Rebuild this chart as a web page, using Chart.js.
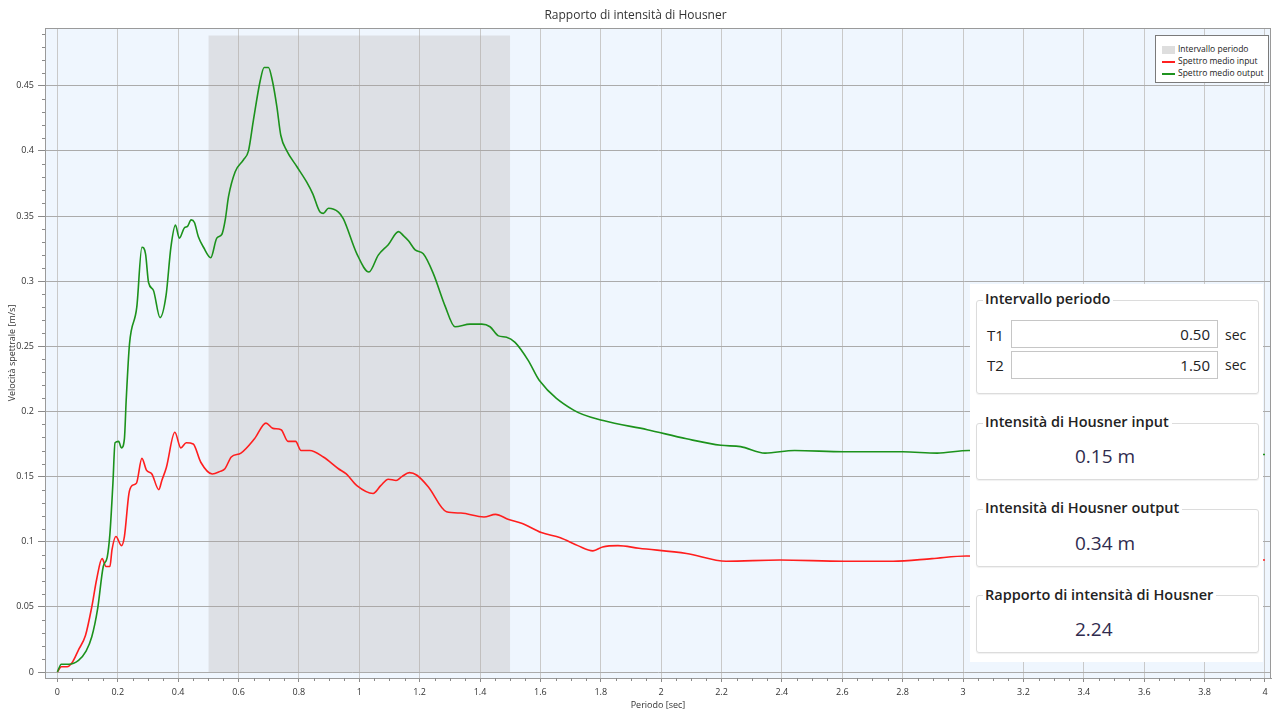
<!DOCTYPE html>
<html>
<head>
<meta charset="utf-8">
<title>Rapporto di intensità di Housner</title>
<script src="https://cdn.jsdelivr.net/npm/chart.js@4"></script>
<style>
    body { margin: 0; background: #fff; font-family: 'Open Sans', sans-serif; }
    #wrap { position: relative; width: 1277px; height: 715px; }
    #chart { position: absolute; left: 0; top: 0; }

    .legend { position: absolute; left: 1155px; top: 35px; width: 112px; height: 46px;
        background: #fff; border: 1px solid #7a7a7a; font-size: 8.5px; color: #222; }
    .legend .row { position: absolute; left: 6px; height: 11px; line-height: 11px; white-space: nowrap; }
    .legend .sw { display: inline-block; width: 13px; vertical-align: middle; margin-right: 3px; }

    .panel { position: absolute; left: 970px; top: 284px; width: 293px; height: 378px; background: #fff; }
    .box { position: absolute; left: 6px; width: 281px; border: 1px solid #dcdcdc; border-radius: 3px;
        box-shadow: 0 1px 1px rgba(0,0,0,0.06); }
    .lbl { position: absolute; left: 13px; font-size: 14.5px; font-weight: 600; color: #222;
        background: #fff; padding: 0 3px 0 2px; line-height: 18px; white-space: nowrap; }
    .val { position: absolute; left: 105px; font-size: 19px; color: #2f2b4e; line-height: 24px; }
    .t { position: absolute; left: 17px; font-size: 15px; color: #222; line-height: 18px; }
    .inp { position: absolute; left: 41px; width: 205px; height: 26px; border: 1px solid #c6c6c6;
        text-align: right; font-size: 15px; line-height: 26px; color: #222; box-sizing: content-box; }
    .inp span { padding-right: 7px; }
    .sec { position: absolute; left: 255px; font-size: 14px; color: #222; line-height: 18px; }
</style>
</head>
<body>
<div id="wrap">
    <canvas id="chart" width="1277" height="715"></canvas>

    <div class="legend">
        <div class="row" style="top:7px"><span class="sw" style="height:8px;background:#dedede"></span>Intervallo periodo</div>
        <div class="row" style="top:19px"><span class="sw" style="height:2px;background:#ff2020"></span>Spettro medio input</div>
        <div class="row" style="top:31px"><span class="sw" style="height:2px;background:#1f931f"></span>Spettro medio output</div>
    </div>

    <div class="panel">
        <div class="box" style="top:16px;height:92px"></div>
        <div class="lbl" style="top:6px">Intervallo periodo</div>
        <div class="t" style="top:42px">T1</div>
        <div class="inp" style="top:36px"><span>0.50</span></div>
        <div class="sec" style="top:42px">sec</div>
        <div class="t" style="top:72px">T2</div>
        <div class="inp" style="top:67px"><span>1.50</span></div>
        <div class="sec" style="top:72px">sec</div>

        <div class="box" style="top:139px;height:55px"></div>
        <div class="lbl" style="top:129px">Intensità di Housner input</div>
        <div class="val" style="top:160px">0.15 m</div>

        <div class="box" style="top:225px;height:56px"></div>
        <div class="lbl" style="top:215px">Intensità di Housner output</div>
        <div class="val" style="top:247px">0.34 m</div>

        <div class="box" style="top:311px;height:56px"></div>
        <div class="lbl" style="top:302px">Rapporto di intensità di Housner</div>
        <div class="val" style="top:333px">2.24</div>
    </div>
</div>

<script>
// Spettro medio input (rosso)
const inputPeriods = [0, 0.013, 0.032, 0.051, 0.070, 0.093, 0.114, 0.130, 0.148, 0.161, 0.174, 0.181, 0.194, 0.212,
    0.222, 0.237, 0.247, 0.262, 0.280, 0.295, 0.313, 0.336, 0.346, 0.361, 0.389, 0.409, 0.427, 0.450, 0.475, 0.513,
    0.539, 0.555, 0.576, 0.608, 0.653, 0.691, 0.714, 0.741, 0.764, 0.789, 0.807, 0.836, 0.881, 0.931, 0.957, 0.992,
    1.046, 1.071, 1.096, 1.122, 1.141, 1.166, 1.191, 1.229, 1.289, 1.337, 1.413, 1.451, 1.495, 1.540, 1.603, 1.666,
    1.724, 1.774, 1.806, 1.857, 1.926, 2.084, 2.215, 2.393, 2.605, 2.768, 2.897, 3.011, 3.3, 3.6, 4.0];
const inputValues = [0, 0.004, 0.004, 0.008, 0.017, 0.028, 0.050, 0.071, 0.087, 0.081, 0.081, 0.094, 0.104, 0.097,
    0.104, 0.137, 0.143, 0.145, 0.164, 0.155, 0.152, 0.140, 0.147, 0.157, 0.184, 0.172, 0.176, 0.175, 0.161, 0.152,
    0.154, 0.156, 0.165, 0.168, 0.179, 0.191, 0.187, 0.186, 0.177, 0.177, 0.170, 0.170, 0.165, 0.156, 0.152, 0.143,
    0.137, 0.143, 0.148, 0.147, 0.150, 0.153, 0.151, 0.142, 0.123, 0.122, 0.119, 0.121, 0.117, 0.114, 0.107, 0.103,
    0.097, 0.093, 0.096, 0.097, 0.095, 0.091, 0.085, 0.086, 0.085, 0.085, 0.087, 0.089, 0.088, 0.087, 0.086];

// Spettro medio output (verde)
const outputPeriods = [0, 0.013, 0.038, 0.070, 0.095, 0.114, 0.133, 0.152, 0.165, 0.174, 0.184, 0.191, 0.203, 0.212,
    0.222, 0.228, 0.239, 0.263, 0.280, 0.292, 0.302, 0.318, 0.340, 0.360, 0.376, 0.391, 0.404, 0.421, 0.431, 0.443,
    0.454, 0.467, 0.484, 0.508, 0.528, 0.545, 0.556, 0.567, 0.589, 0.616, 0.633, 0.649, 0.672, 0.685, 0.699, 0.712,
    0.727, 0.740, 0.760, 0.793, 0.826, 0.846, 0.870, 0.881, 0.898, 0.931, 0.947, 0.992, 1.032, 1.063, 1.096, 1.130,
    1.146, 1.163, 1.185, 1.212, 1.245, 1.284, 1.317, 1.367, 1.406, 1.433, 1.461, 1.488, 1.516, 1.560, 1.596, 1.710,
    1.808, 1.954, 2.084, 2.198, 2.263, 2.344, 2.442, 2.605, 2.800, 2.914, 3.019, 3.3, 3.6, 4.0];
const outputValues = [0, 0.006, 0.006, 0.009, 0.016, 0.027, 0.048, 0.081, 0.088, 0.106, 0.145, 0.176, 0.177, 0.172,
    0.179, 0.209, 0.252, 0.280, 0.326, 0.321, 0.299, 0.293, 0.272, 0.289, 0.326, 0.343, 0.333, 0.341, 0.342, 0.347,
    0.345, 0.334, 0.326, 0.318, 0.333, 0.336, 0.347, 0.365, 0.384, 0.393, 0.400, 0.423, 0.454, 0.464, 0.464, 0.454,
    0.434, 0.412, 0.400, 0.388, 0.376, 0.367, 0.353, 0.352, 0.356, 0.353, 0.348, 0.321, 0.307, 0.320, 0.328, 0.338,
    0.335, 0.331, 0.324, 0.321, 0.306, 0.281, 0.265, 0.267, 0.267, 0.265, 0.258, 0.257, 0.253, 0.239, 0.224, 0.201,
    0.193, 0.186, 0.179, 0.174, 0.173, 0.168, 0.170, 0.169, 0.169, 0.168, 0.170, 0.169, 0.168, 0.167];

// Intervallo periodo T1-T2
const bandPeriods = [0.5, 1.5];
const bandTop = 0.4885;

const FONT = "'Open Sans', sans-serif";

const toPoints = (xs, ys) => xs.map((t, i) => ({ x: t, y: ys[i] }));
// "0.40" -> "0.4", "1.0" -> "1"
const shortNum = v => String(Number(v.toFixed(2)));

// light blue plot background + frame
const plotBg = {
    id: 'plotBg',
    beforeDraw(chart) {
        const { ctx, chartArea: a } = chart;
        ctx.save();
        ctx.fillStyle = '#eff6fe';
        ctx.fillRect(a.left, a.top, a.right - a.left, a.bottom - a.top);
        ctx.restore();
    },
    afterDraw(chart) {
        const { ctx, chartArea: a } = chart;
        ctx.save();
        ctx.strokeStyle = '#9a9a9a';
        ctx.lineWidth = 1;
        ctx.strokeRect(a.left + 0.5, a.top + 0.5, a.right - a.left - 1, a.bottom - a.top);
        ctx.restore();
    }
};

// minor tick marks on both axes
const minorTicks = {
    id: 'minorTicks',
    afterDraw(chart) {
        const { ctx, chartArea: a, scales: { x, y } } = chart;
        ctx.save();
        ctx.strokeStyle = '#8a8a8a';
        ctx.lineWidth = 1;
        ctx.beginPath();
        for (let i = 1; i < 80; i++) {
            if (i % 4 === 0) continue;
            const px = Math.round(x.getPixelForValue(i * 0.05)) + 0.5;
            ctx.moveTo(px, a.bottom);
            ctx.lineTo(px, a.bottom + 3);
        }
        for (let i = 1; i < 50; i++) {
            if (i % 5 === 0) continue;
            const v = i * 0.01;
            if (v > y.max) break;
            const py = Math.round(y.getPixelForValue(v)) + 0.5;
            ctx.moveTo(a.left - 3, py);
            ctx.lineTo(a.left, py);
        }
        ctx.stroke();
        ctx.restore();
    }
};

new Chart(document.getElementById('chart'), {
    type: 'line',
    data: {
        datasets: [
            {
                label: 'Intervallo periodo',
                data: bandPeriods.map(t => ({ x: t, y: bandTop })),
                fill: 'origin',
                backgroundColor: 'rgba(172, 168, 164, 0.27)',
                borderWidth: 0,
                pointRadius: 0,
                order: 3
            },
            {
                label: 'Spettro medio input',
                data: toPoints(inputPeriods, inputValues),
                borderColor: '#ff1e1e',
                borderWidth: 1.6,
                pointRadius: 0,
                cubicInterpolationMode: 'monotone',
                fill: false,
                order: 2
            },
            {
                label: 'Spettro medio output',
                data: toPoints(outputPeriods, outputValues),
                borderColor: '#1c921c',
                borderWidth: 1.6,
                pointRadius: 0,
                cubicInterpolationMode: 'monotone',
                fill: false,
                order: 1
            }
        ]
    },
    options: {
        responsive: false,
        animation: false,
        events: [],
        layout: { padding: { left: 0, right: 6, top: 0, bottom: 0 } },
        plugins: {
            legend: { display: false },
            tooltip: { enabled: false },
            title: {
                display: true,
                text: 'Rapporto di intensità di Housner',
                color: '#333',
                font: { family: FONT, size: 12, weight: 'normal' },
                padding: { top: 8, bottom: 5.6 }
            }
        },
        scales: {
            x: {
                type: 'linear',
                min: -0.041,
                max: 4.02,
                afterFit: s => { s.height = 37; },
                ticks: {
                    stepSize: 0.2,
                    includeBounds: false,
                    autoSkip: false,
                    maxRotation: 0,
                    color: '#333',
                    padding: 5,
                    font: { family: FONT, size: 9 },
                    callback: shortNum
                },
                grid: { color: '#c9c9c9', tickLength: 4, tickColor: '#8a8a8a' },
                border: { color: '#9a9a9a' },
                title: {
                    display: true,
                    text: 'Periodo [sec]',
                    color: '#333',
                    font: { family: FONT, size: 9 },
                    padding: { top: 0, bottom: 4 }
                }
            },
            y: {
                min: -0.0046,
                max: 0.4943,
                afterFit: s => { s.width = 45; },
                ticks: {
                    stepSize: 0.05,
                    includeBounds: false,
                    color: '#333',
                    padding: 4,
                    font: { family: FONT, size: 9 },
                    callback: shortNum
                },
                grid: { color: '#ababab', tickLength: 7, tickColor: '#8a8a8a' },
                border: { color: '#9a9a9a' },
                title: {
                    display: true,
                    text: 'Velocità spettrale [m/s]',
                    color: '#333',
                    font: { family: FONT, size: 9 },
                    padding: { top: 7, bottom: 0 }
                }
            }
        }
    },
    plugins: [plotBg, minorTicks]
});
</script>
</body>
</html>
